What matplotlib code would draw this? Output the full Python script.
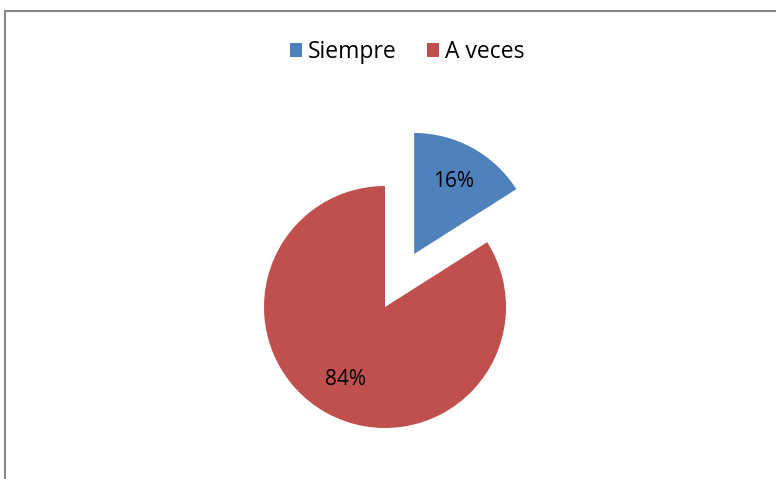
import matplotlib.pyplot as plt
from matplotlib.patches import Rectangle, Patch

labels = ['Siempre', 'A veces']
values = [16, 84]
colors = ['#4F81BD', '#C0504D']

plt.rcParams['font.family'] = ['Open Sans', 'DejaVu Sans']

fig = plt.figure(figsize=(7.76, 4.79), dpi=100)
ax = fig.add_axes([0, 0, 1, 1])

wedges, texts, autotexts = ax.pie(values, colors=colors, startangle=90, counterclock=False,
                                  explode=[0.5, 0], autopct='%1.0f%%', pctdistance=0.68,
                                  radius=1, textprops={'fontsize': 15, 'color': 'black'})

# pie center at (385, 307) px, radius 121 px
r = 121
ax.set_xlim(-385 / r, (776 - 385) / r)
ax.set_ylim(-(479 - 307) / r, 307 / r)
ax.set_aspect('auto')
ax.axis('off')

# chart frame
fig.patches.append(Rectangle((5 / 776, -0.1), 1.2, 1 - 11 / 479 + 0.1, transform=fig.transFigure,
                             fill=False, edgecolor='#868686', linewidth=1.5))

handles = [Patch(facecolor=c, edgecolor='none') for c in colors]
fig.legend(handles, labels, loc='center', bbox_to_anchor=(407 / 776, 1 - 52 / 479), ncol=2,
           frameon=False, fontsize=16.5, handlelength=0.55, handleheight=0.55, handletextpad=0.25,
           columnspacing=1.3)

fig.savefig('out.png', dpi=100)
